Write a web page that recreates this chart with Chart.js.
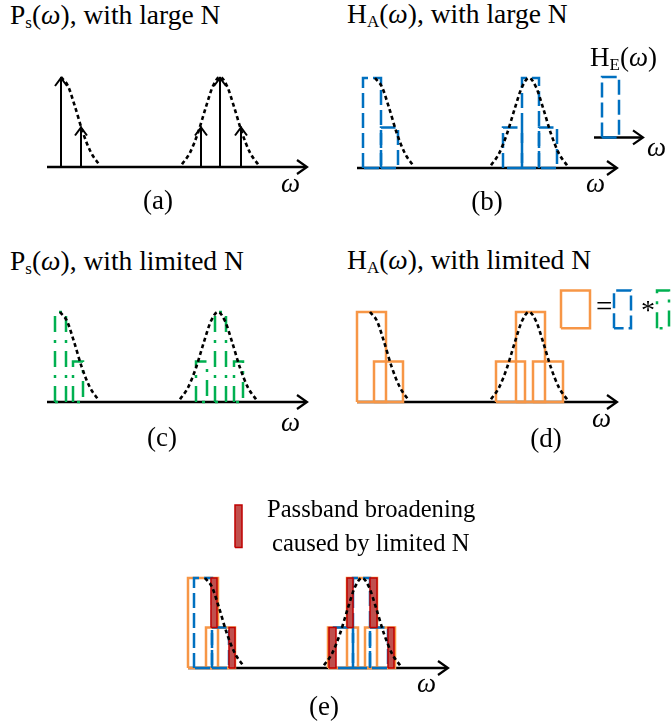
<!DOCTYPE html>
<html><head><meta charset="utf-8">
<script src="https://cdn.jsdelivr.net/npm/chart.js@4.4.0/dist/chart.umd.min.js"></script>
<style>
html,body{margin:0;padding:0;background:#fff;}
#wrap{position:relative;width:671px;height:727px;overflow:hidden;background:#fff;}
canvas{position:absolute;}
.t{position:absolute;font-family:"Liberation Serif","Times New Roman",serif;font-size:27px;line-height:27px;color:#000;white-space:nowrap;z-index:5;}
.h{font-size:27.5px;line-height:27.5px;}
.n{font-size:24.6px;line-height:24.6px;}
.sub{font-size:17px;line-height:0;position:relative;top:4px;}
.w{font-style:italic;}
.c{transform:translateX(-50%);}
</style></head><body><div id="wrap">
<div class="t h" style="left:10px;top:1px;">P<span class="sub">s</span>(<span class="w">ω</span>), with large N</div>
<div class="t h" style="left:347px;top:0px;">H<span class="sub">A</span>(<span class="w">ω</span>), with large N</div>
<div class="t" style="left:590px;top:44px;">H<span class="sub">E</span>(<span class="w">ω</span>)</div>
<div class="t h" style="left:10px;top:247px;">P<span class="sub">s</span>(<span class="w">ω</span>), with limited N</div>
<div class="t h" style="left:347px;top:246px;">H<span class="sub">A</span>(<span class="w">ω</span>), with limited N</div>
<div class="t c" style="left:158px;top:187px;">(a)</div>
<div class="t c" style="left:487px;top:188px;">(b)</div>
<div class="t c" style="left:162px;top:424px;">(c)</div>
<div class="t c" style="left:546px;top:425px;">(d)</div>
<div class="t c" style="left:324px;top:693px;">(e)</div>
<div class="t w" style="left:281px;top:170px;">ω</div>
<div class="t w" style="left:586px;top:170px;">ω</div>
<div class="t w" style="left:647px;top:134px;">ω</div>
<div class="t w" style="left:281px;top:409px;">ω</div>
<div class="t w" style="left:592px;top:405px;">ω</div>
<div class="t w" style="left:417px;top:670px;">ω</div>
<div class="t" style="left:596px;top:293px;font-size:29px;">=</div>
<div class="t" style="left:641px;top:296px;font-size:28px;">*</div>
<div class="t n" style="left:267px;top:497px;">Passband broadening</div>
<div class="t n" style="left:272px;top:531px;">caused by limited N</div>
</div>
<script>
// ---------- data (ω in arbitrary units, amplitude normalised to 1) ----------
const aLineW = [0.7, 1.7, 7.7, 8.65, 9.7];        // spectral lines (a)
const aLineH = [1, 0.45, 0.45, 1, 0.45];
const envOff = [-1.9, -1.5, -1.1, -0.7, -0.35, 0, 0.35, 0.7, 1.1, 1.5, 1.9];
const envH   = [0.03, 0.16, 0.38, 0.67, 0.9, 1, 0.9, 0.67, 0.38, 0.16, 0.03];
const envCentre = {a:[0.7, 8.65], b:[0.9, 8.6], c:[0.65, 8.55], d:[0.65, 8.6], e:[0.85, 8.7]};
const passH  = [1, 0.45, 0.45, 1, 0.45];
const bLeft  = [0.3, 1.2, 7.3, 8.25, 9.1];        // H_A large N (blue)
const bRight = [1.2, 2.05, 8.25, 9.1, 10.0];
const heEdge = [12.25, 13.1];                      // H_E inset
const heLevel = [0.34, 1.01];
const heAxis = [11.85, 14.3];
const cLeft  = [0.4, 1.3, 7.45, 8.4, 9.35];       // P_s limited N (green)
const cRight = [0.95, 1.8, 8.0, 8.95, 9.8];
const dLeft  = [0, 0.85, 6.95, 7.95, 8.8];        // H_A limited N (orange)
const dRight = [1.45, 2.3, 8.4, 9.4, 10.3];
const eLeft  = [0, 0.9, 7.0, 7.95, 8.85];
const eRight = [1.5, 2.35, 8.5, 9.45, 10.35];
const rLeft  = [1.15, 2.05, 7.05, 7.95, 9.1, 10.0]; // broadening (red)
const rRight = [1.45, 2.35, 7.4, 8.25, 9.45, 10.3];
const rLow   = [0.45, 0, 0, 0.45, 0.45, 0];
const rHigh  = [1, 0.45, 0.45, 1, 1, 0.45];
const legOrange = [10.2, 11.65], legBlue = [12.85, 13.7], legGreen = [15.0, 15.6], legY = [0.82, 1.24];
const legRed = [2.35, 2.7], legRedY = [1.34, 1.81];
const axisSpan = [0, 13];

// ---------- styles ----------
const BLUE='#0070C0', GREEN='#00B050', ORANGE='#F79646', RED='#C00000', REDFILL='#C0504D', BLACK='#000';
const X_MIN=-1, Y_MIN=-0.5, UX=20, UY=90;
const wrap=document.getElementById('wrap');

const arrowKit={
  id:'arrowKit',
  beforeDatasetsDraw(chart,args,o){
    const ctx=chart.ctx, xs=chart.scales.x, ys=chart.scales.y;
    (o.axes||[]).forEach(a=>{
      const x0=xs.getPixelForValue(a.from), x1=xs.getPixelForValue(a.to), y=ys.getPixelForValue(a.at);
      ctx.save(); ctx.strokeStyle=BLACK; ctx.lineWidth=2.5; ctx.lineCap='butt';
      ctx.beginPath(); ctx.moveTo(x0,y); ctx.lineTo(x1-1,y); ctx.stroke();
      ctx.lineWidth=2.2; ctx.lineJoin='miter';
      ctx.beginPath(); ctx.moveTo(x1-10,y-7); ctx.lineTo(x1,y); ctx.lineTo(x1-10,y+7); ctx.stroke();
      ctx.restore();
    });
  },
  afterDatasetsDraw(chart,args,o){
    const ctx=chart.ctx, xs=chart.scales.x, ys=chart.scales.y;
    (o.tips||[]).forEach(t=>{
      const x=xs.getPixelForValue(t.x), y=ys.getPixelForValue(t.y);
      ctx.save(); ctx.strokeStyle=BLACK; ctx.lineWidth=2;
      ctx.beginPath(); ctx.moveTo(x-6,y+9); ctx.lineTo(x,y+1); ctx.lineTo(x+6,y+9); ctx.stroke();
      ctx.restore();
    });
  }
};

function line(pts,color,width,dash,more){
  return Object.assign({data:pts,borderColor:color,borderWidth:width,borderDash:dash||[],pointRadius:0,
    fill:false,tension:0,borderCapStyle:'butt',borderJoinStyle:'miter'},more||{});
}
function rect(l,r,b,t){return [{x:l,y:b},{x:l,y:t},{x:r,y:t},{x:r,y:b},{x:l,y:b}];}
function envelope(centre,half){
  const pts=[];
  envOff.forEach((o,i)=>{ if(!half||o>=0) pts.push({x:centre+o,y:envH[i]}); });
  return line(pts,BLACK,2.6,[4,3],{cubicInterpolationMode:'monotone'});
}
function envelopes(key){const c=envCentre[key];return [envelope(c[0],true),envelope(c[1],false)];}
function rects(L,R,H,color,width,dash){return L.map((l,i)=>line(rect(l,R[i],0,H[i]),color,width,dash));}

function panel(cfg,datasets,plug){
  const c=document.createElement('canvas');
  const left=cfg.axisX+X_MIN*UX, top=Math.round(cfg.axisY-cfg.yMax*UY);
  const w=Math.round((cfg.xMax-X_MIN)*UX), h=Math.round((cfg.yMax-Y_MIN)*UY);
  c.width=w;c.height=h;c.style.left=left+'px';c.style.top=top+'px';c.style.width=w+'px';c.style.height=h+'px';
  wrap.appendChild(c);
  datasets.forEach((d,i)=>d.order=-i);
  new Chart(c,{type:'line',data:{datasets},
    options:{responsive:false,animation:false,events:[],layout:{padding:0},
      plugins:{legend:{display:false},tooltip:{enabled:false},arrowKit:plug},
      scales:{x:{type:'linear',min:X_MIN,max:cfg.xMax,display:false},
              y:{type:'linear',min:Y_MIN,max:cfg.yMax,display:false}}},
    plugins:[arrowKit]});
}
const mainAxis={from:axisSpan[0],to:axisSpan[1],at:0};

// (a)
panel({axisX:47,axisY:167,xMax:14,yMax:1.2},
  [...aLineW.map((x,i)=>line([{x:x,y:0},{x:x,y:aLineH[i]}],BLACK,2,[])), ...envelopes('a')],
  {axes:[mainAxis],tips:aLineW.map((x,i)=>({x:x,y:aLineH[i]}))});

// (b)
panel({axisX:357,axisY:168,xMax:15,yMax:1.2},
  [...rects(bLeft,bRight,passH,BLUE,2.5,[15,5]), ...envelopes('b'),
   line(rect(heEdge[0],heEdge[1],heLevel[0],heLevel[1]),BLUE,2.5,[15,5])],
  {axes:[mainAxis,{from:heAxis[0],to:heAxis[1],at:heLevel[0]}]});

// (c)
panel({axisX:47,axisY:402,xMax:14,yMax:1.2},
  [...rects(cLeft,cRight,passH,GREEN,2.5,[16,8,3,8]), ...envelopes('c')],
  {axes:[mainAxis]});

// (d)
panel({axisX:357,axisY:402,xMax:15.8,yMax:1.3},
  [...rects(dLeft,dRight,passH,ORANGE,2.5,[]), ...envelopes('d'),
   line(rect(legOrange[0],legOrange[1],legY[0],legY[1]),ORANGE,2.5,[]),
   line(rect(legBlue[0],legBlue[1],legY[0],legY[1]),BLUE,2.5,[15,5]),
   line(rect(legGreen[0],legGreen[1],legY[0],legY[1]),GREEN,2.5,[16,8,3,8])],
  {axes:[mainAxis]});

// (e)
panel({axisX:188,axisY:668,xMax:14,yMax:1.9},
  [...rects(eLeft,eRight,passH,ORANGE,2.5,[]),
   ...rects(bLeft,bRight,passH,BLUE,2.5,[15,5]),
   ...rLeft.map((l,i)=>line(rect(l,rRight[i],rLow[i],rHigh[i]),RED,1.5,[],{fill:'shape',backgroundColor:REDFILL})),
   ...envelopes('e'),
   line(rect(legRed[0],legRed[1],legRedY[0],legRedY[1]),RED,1.5,[],{fill:'shape',backgroundColor:REDFILL})],
  {axes:[mainAxis]});
</script></body></html>
